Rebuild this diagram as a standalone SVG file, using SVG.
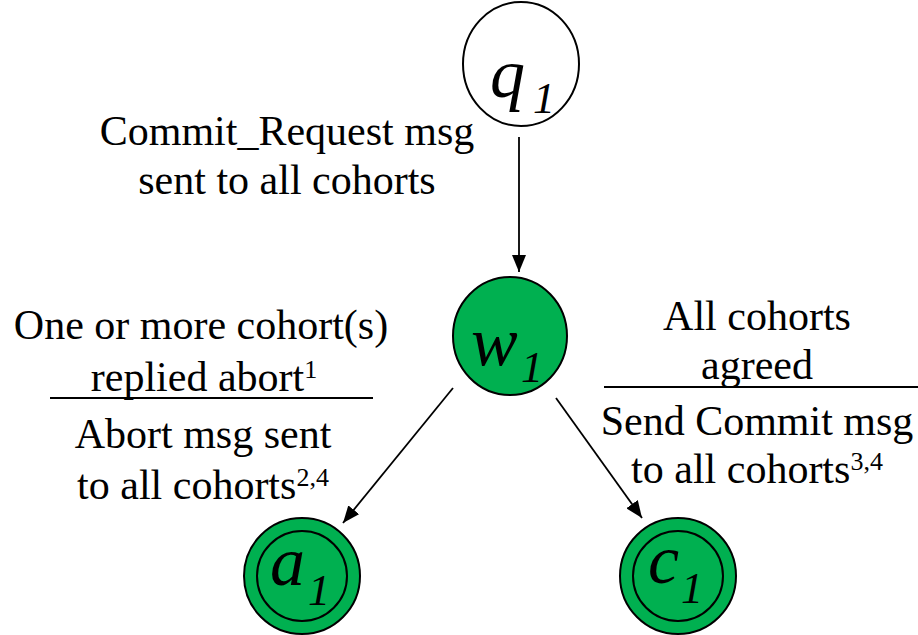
<svg xmlns="http://www.w3.org/2000/svg" width="918" height="635" viewBox="0 0 918 635">
<style>
.lbl{font-size:42px;fill:#000;text-anchor:middle}
.sup{font-size:26px}
.nm{font-style:italic;fill:#000}
.big{font-size:70px}
.sub{font-size:44px}
.st{fill:#00B050;stroke:#000;stroke-width:2}
.edge{stroke:#000;stroke-width:1.8;fill:none;marker-end:url(#ah)}
.bar{stroke:#000;stroke-width:2}
</style>
<defs>
<marker id="ah" markerUnits="userSpaceOnUse" markerWidth="18" markerHeight="14" refX="17" refY="7" orient="auto">
<path d="M0,0 L17,7 L0,14 z" fill="#000"/>
</marker>
</defs>
<rect width="918" height="635" fill="#fff"/>
<g id="edges">
<line class="edge" x1="519" y1="137" x2="519" y2="272"/>
<line class="edge" x1="453" y1="388" x2="343" y2="523"/>
<line class="edge" x1="556" y1="398" x2="642" y2="518"/>
</g>
<g font-family="Liberation Serif, DejaVu Serif, serif">
<g id="q1">
<ellipse cx="521" cy="64" rx="58" ry="62" fill="#fff" stroke="#000" stroke-width="2"/>
<text class="nm"><tspan class="big" x="490" y="97">q</tspan><tspan class="sub" x="533" y="113">1</tspan></text>
</g>
<g id="w1">
<ellipse class="st" cx="510" cy="336" rx="57" ry="59"/>
<text class="nm"><tspan class="big" x="471" y="365">w</tspan><tspan class="sub" x="521" y="382">1</tspan></text>
</g>
<g id="a1">
<circle class="st" cx="302" cy="576" r="58"/>
<circle class="st" cx="302" cy="576" r="45"/>
<text class="nm"><tspan class="big" x="270" y="585">a</tspan><tspan class="sub" x="308" y="605">1</tspan></text>
</g>
<g id="c1">
<circle class="st" cx="678" cy="576" r="58"/>
<circle class="st" cx="678" cy="576" r="45"/>
<text class="nm"><tspan class="big" x="648" y="583">c</tspan><tspan class="sub" x="681" y="603">1</tspan></text>
</g>
<g id="label-request">
<text class="lbl" x="287" y="145">Commit_Request msg</text>
<text class="lbl" x="287" y="194">sent to all cohorts</text>
</g>
<g id="label-abort">
<text class="lbl" x="201" y="339">One or more cohort(s)</text>
<text class="lbl" x="204" y="391">replied abort<tspan class="sup" dy="-13">1</tspan></text>
<line class="bar" x1="50" y1="398" x2="373" y2="398"/>
<text class="lbl" x="203" y="448">Abort msg sent</text>
<text class="lbl" x="203" y="499">to all cohorts<tspan class="sup" dy="-13">2,4</tspan></text>
</g>
<g id="label-commit">
<text class="lbl" x="757" y="330">All cohorts</text>
<text class="lbl" x="757" y="379">agreed</text>
<line class="bar" x1="604" y1="387" x2="918" y2="387"/>
<text class="lbl" x="757" y="435">Send Commit msg</text>
<text class="lbl" x="757" y="483">to all cohorts<tspan class="sup" dy="-13">3,4</tspan></text>
</g>
</g>
</svg>
